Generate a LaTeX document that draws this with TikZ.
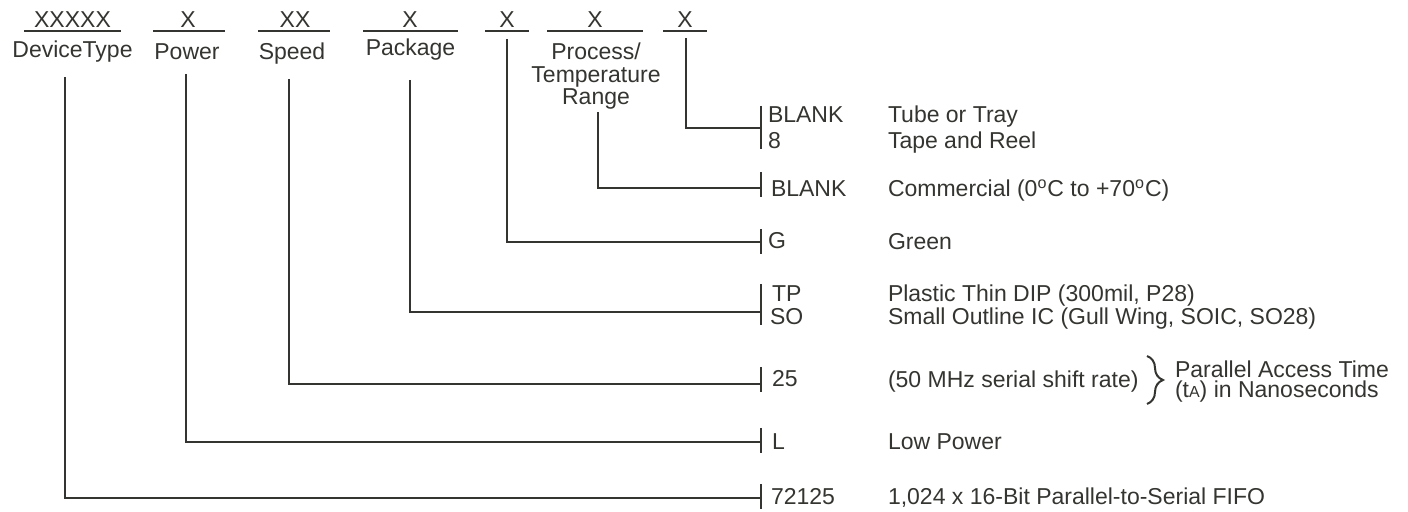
\documentclass[tikz,border=0pt]{standalone}
\usepackage{fontspec}
\setmainfont{Liberation Sans}
\usetikzlibrary{decorations.pathreplacing}
\definecolor{ink}{RGB}{52,52,48}
\begin{document}
\begin{tikzpicture}[x=0.5pt,y=-0.5pt,
  txt/.style={inner sep=0pt,outer sep=0pt,text=ink,font=\fontsize{11.5}{12}\selectfont},
  top/.style={txt,anchor=base},
  code/.style={txt,anchor=base west},
  desc/.style={txt,anchor=base west},
  uline/.style={draw=ink,line width=0.8pt},
  conn/.style={draw=ink,line width=1pt},
  tick/.style={draw=ink,line width=1pt}]
\useasboundingbox (0,0) rectangle (1408,512);
% top codes
\node[top] (c1) at (72.5,28) {XXXXX};
\node[top] (c2) at (188,28) {X};
\node[top] (c3) at (295,28) {XX};
\node[top] (c4) at (410,28) {X};
\node[top] (c5) at (507,28) {X};
\node[top] (c6) at (595,28) {X};
\node[top] (c7) at (685,28) {X};
\draw[uline] (24,31) -- (121,31);
\draw[uline] (153,31) -- (225,31);
\draw[uline] (258,31) -- (330,31);
\draw[uline] (363,31) -- (458,31);
\draw[uline] (485,31) -- (529,31);
\draw[uline] (547,31) -- (643,31);
\draw[uline] (663,31) -- (707,31);
% field labels
\node[top] (l1) at (72.5,58) {DeviceType};
\node[top] (l2) at (187,60) {Power};
\node[top] (l3) at (292,60) {Speed};
\node[top] (l4) at (410.5,56) {Package};
\node[top] (l6a) at (596,60) {Process/};
\node[top] (l6b) at (596,83) {Temperature};
\node[top] (l6c) at (596,105) {Range};
% connector start points
\coordinate (s1) at (65,77);
\coordinate (s2) at (186,74);
\coordinate (s3) at (289,79);
\coordinate (s4) at (410,80);
\coordinate (s5) at (507,39);
\coordinate (s6) at (598,112);
\coordinate (s7) at (686,38);
% tick points
\coordinate (k7) at (761,128);
\coordinate (k6) at (761,188);
\coordinate (k5) at (761,242);
\coordinate (k4) at (761,312);
\coordinate (k3) at (761,384);
\coordinate (k2) at (761,442);
\coordinate (k1) at (761,498);
% connectors
\draw[conn] (s1) |- (k1);
\draw[conn] (s2) |- (k2);
\draw[conn] (s3) |- (k3);
\draw[conn] (s4) |- (k4);
\draw[conn] (s5) |- (k5);
\draw[conn] (s6) |- (k6);
\draw[conn] (s7) |- (k7);
% ticks
\draw[tick] (761,106) -- (761,149);
\draw[tick] (761,172) -- (761,197);
\draw[tick] (761,229) -- (761,254);
\draw[tick] (761,284) -- (761,325);
\draw[tick] (761,367) -- (761,392);
\draw[tick] (761,428) -- (761,453);
\draw[tick] (761,484) -- (761,509);
% codes
\node[code] (o7a) at (768,123) {BLANK};
\node[code] (o7b) at (768,149) {8};
\node[code] (o6) at (771,197) {BLANK};
\node[code] (o5) at (768,249) {G};
\node[code] (o4a) at (772,302) {TP};
\node[code] (o4b) at (770,325) {SO};
\node[code] (o3) at (772,387) {25};
\node[code] (o2) at (772,450) {L};
\node[code] (o1) at (771,505) {72125};
% descriptions
\node[desc] (d7a) at (888,123) {Tube or Tray};
\node[desc] (d7b) at (888,149) {Tape and Reel};
\node[desc] (d6) at (888,197) {Commercial (0\textsuperscript{o}C to +70\textsuperscript{o}C)};
\node[desc] (d5) at (888,250) {Green};
\node[desc] (d4a) at (888,302) {Plastic Thin DIP (300mil, P28)};
\node[desc] (d4b) at (888,325) {Small Outline IC (Gull Wing, SOIC, SO28)};
\node[desc] (d3) at (888,388) {(50 MHz serial shift rate)};
\node[desc] (d2) at (888,450) {Low Power};
\node[desc] (d1) at (888,505) {1,024 x 16-Bit Parallel-to-Serial FIFO};
% brace
\coordinate (bt) at (1147,356);
\coordinate (bb) at (1147,404);
\draw[ink,line width=1pt,decorate,decoration={brace,amplitude=8pt}] (bt) -- (bb);
\node[desc] (p1) at (1175,378) {Parallel Access Time};
\node[desc] (p2) at (1175,398) {(t{\fontsize{8}{8}\selectfont A}) in Nanoseconds};
\end{tikzpicture}
\end{document}
